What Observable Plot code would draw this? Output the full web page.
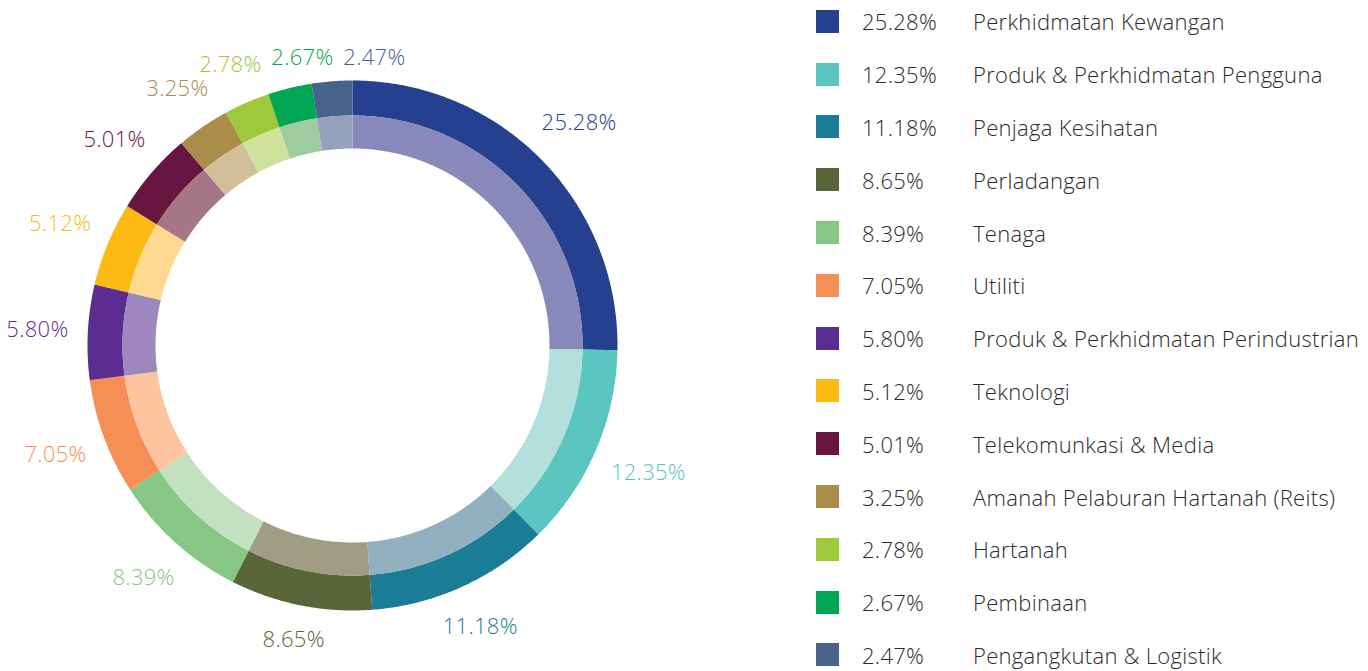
<!DOCTYPE html>
<html><head><meta charset="utf-8">
<script src="https://cdn.jsdelivr.net/npm/d3@7"></script>
<script src="https://cdn.jsdelivr.net/npm/@observablehq/plot@0.6"></script>
<style>
body{margin:0;background:#fff;font-family:"Open Sans",sans-serif;}
#wrap{position:relative;width:1368px;height:671px;overflow:hidden}
#chart{position:absolute;left:0;top:0}
#legend{position:absolute;left:816px;top:-5px}
.row{height:52.8px;display:flex;align-items:center;font-size:22px;font-weight:300;letter-spacing:0.3px;line-height:24px;color:#2b2b2b;white-space:nowrap}
.sw{width:23px;height:23px;margin-right:23px;flex:none}
.pct{width:111px;flex:none}
</style></head><body><div id="wrap"><div id="chart"></div><div id="legend"></div></div>
<script>
const sectors = ["Perkhidmatan Kewangan","Produk & Perkhidmatan Pengguna","Penjaga Kesihatan","Perladangan","Tenaga","Utiliti","Produk & Perkhidmatan Perindustrian","Teknologi","Telekomunkasi & Media","Amanah Pelaburan Hartanah (Reits)","Hartanah","Pembinaan","Pengangkutan & Logistik"];
const shares = [25.28,12.35,11.18,8.65,8.39,7.05,5.80,5.12,5.01,3.25,2.78,2.67,2.47];
const outerColors = ["#25408f","#5bc5c0","#1a7d95","#5a6639","#87c785","#f68f55","#5c2d91","#fcb813","#681540","#ab8d4a","#9dc93b","#00a651","#48638a"];
const innerColors = ["#8988ba","#b3e0dd","#91b0c0","#9f9e85","#c2e2bf","#fec39f","#9d87bd","#ffd98f","#a57786","#d1bf99","#cde29b","#9ecc9f","#96a1bb"];

const R_OUT = 265, R_MID = 230, R_IN = 197, R_LABEL = 285;
const total = d3.sum(shares);
let acc = 0;
const slices = shares.map((v, i) => {
  const a0 = acc / total * 2 * Math.PI; acc += v;
  const a1 = acc / total * 2 * Math.PI;
  return {i, v, a0, a1};
});
function ring(r0, r1, colors, tag) {
  const pts = [];
  for (const s of slices) {
    const n = Math.max(4, Math.ceil((s.a1 - s.a0) / (Math.PI / 360)));
    for (let k = 0; k <= n; k++) {
      const a = s.a0 + (s.a1 - s.a0) * k / n;
      pts.push({key: tag + s.i, x: r1 * Math.sin(a), y: r1 * Math.cos(a), fill: colors[s.i]});
    }
    for (let k = n; k >= 0; k--) {
      const a = s.a0 + (s.a1 - s.a0) * k / n;
      pts.push({key: tag + s.i, x: r0 * Math.sin(a), y: r0 * Math.cos(a), fill: colors[s.i]});
    }
  }
  return pts;
}
const outerPts = ring(R_MID, R_OUT, outerColors, "o");
const innerPts = ring(R_IN, R_MID, innerColors, "i");

// label positions: text box kept just outside the ring
const labels = slices.map(s => {
  const a = (s.a0 + s.a1) / 2;
  const text = shares[s.i].toFixed(2) + "%";
  const w = 12 * text.length, h = 20;
  const r = R_LABEL + Math.abs(Math.sin(a)) * w / 2 + Math.abs(Math.cos(a)) * h / 2;
  return {text, x: r * Math.sin(a), y: Math.min(288, r * Math.cos(a)), fill: outerColors[s.i]};
});
const topLabels = labels.filter(d => d.y > 250).sort((a, b) => a.x - b.x);
for (let k = 1; k < topLabels.length; k++) {
  if (Math.abs(topLabels[k].y - topLabels[k-1].y) < 22)
    topLabels[k].x = Math.max(topLabels[k].x, topLabels[k-1].x + 72);
}

const chart = Plot.plot({
  width: 800, height: 671,
  margin: 0,
  x: {domain: [-352, 448], range: [0, 800], axis: null},
  y: {domain: [-326, 345], range: [671, 0], axis: null},
  color: {type: "identity"},
  style: {fontFamily: "Open Sans", background: "transparent"},
  marks: [
    Plot.line(outerPts, {x: "x", y: "y", z: "key", fill: "fill", stroke: "none", curve: "linear-closed"}),
    Plot.line(innerPts, {x: "x", y: "y", z: "key", fill: "fill", stroke: "none", curve: "linear-closed"}),
    Plot.text(labels, {x: "x", y: "y", text: "text", fill: "fill", fontSize: 22, fontWeight: 300, fontFamily: "Open Sans"})
  ]
});
chart.querySelectorAll("text").forEach(t => t.style.letterSpacing = "0.3px");
document.getElementById("chart").appendChild(chart);

const legend = document.getElementById("legend");
sectors.forEach((name, i) => {
  const row = document.createElement("div");
  row.className = "row";
  row.innerHTML = `<div class="sw" style="background:${outerColors[i]}"></div><div class="pct">${shares[i].toFixed(2)}%</div><div class="lab"></div>`;
  row.querySelector(".lab").textContent = name;
  legend.appendChild(row);
});
</script>
</body></html>
